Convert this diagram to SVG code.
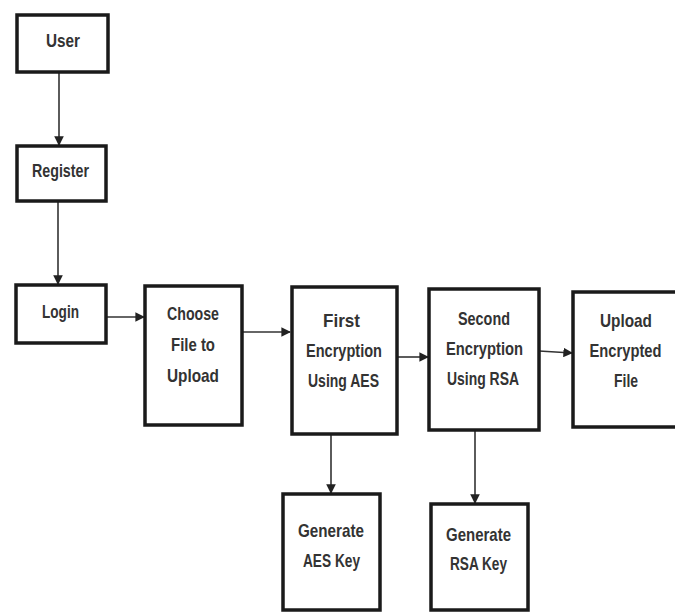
<svg xmlns="http://www.w3.org/2000/svg" width="675" height="612" viewBox="0 0 675 612">
<style>
.box{fill:#fff;stroke:#1a1a1a;stroke-width:3.5}
.lbl{font-family:"Liberation Sans",Arial,sans-serif;font-weight:bold;font-size:19px;fill:#333;text-anchor:middle}
.edge{stroke:#333;stroke-width:1.6;fill:none;marker-end:url(#ah)}
</style>
<defs>
<marker id="ah" viewBox="0 0 10 10" refX="9" refY="5" markerWidth="6" markerHeight="6" markerUnits="strokeWidth" orient="auto">
<path d="M0,0 L10,5 L0,10 z" fill="#222"/>
</marker>
</defs>
<rect width="675" height="612" fill="#fff"/>
<g id="connectors">
<line class="edge" x1="59" y1="72" x2="59" y2="145"/>
<line class="edge" x1="58" y1="201" x2="58" y2="284"/>
<line class="edge" x1="106" y1="317" x2="144" y2="317"/>
<line class="edge" x1="242" y1="332" x2="290" y2="332"/>
<line class="edge" x1="397" y1="357" x2="428" y2="357"/>
<line class="edge" x1="539" y1="351" x2="572" y2="353"/>
<line class="edge" x1="331" y1="434" x2="331" y2="493"/>
<line class="edge" x1="475" y1="430" x2="475" y2="503"/>
</g>
<g id="user"><rect class="box" x="17" y="15" width="91" height="57"/><text class="lbl" x="63" y="47" textLength="34" lengthAdjust="spacingAndGlyphs">User</text></g>
<g id="register"><rect class="box" x="17" y="146" width="89" height="55"/><text class="lbl" x="60.5" y="177" textLength="57" lengthAdjust="spacingAndGlyphs">Register</text></g>
<g id="login"><rect class="box" x="16" y="285" width="90" height="58"/><text class="lbl" x="60.5" y="318" textLength="37" lengthAdjust="spacingAndGlyphs">Login</text></g>
<g id="choose"><rect class="box" x="145" y="286" width="97" height="139"/>
<text class="lbl" x="193" y="320" textLength="52" lengthAdjust="spacingAndGlyphs">Choose</text>
<text class="lbl" x="193" y="351" textLength="44" lengthAdjust="spacingAndGlyphs">File to</text>
<text class="lbl" x="193" y="382" textLength="52" lengthAdjust="spacingAndGlyphs">Upload</text></g>
<g id="first"><rect class="box" x="292" y="287" width="105" height="147"/>
<text class="lbl" x="341.5" y="327" textLength="37" lengthAdjust="spacingAndGlyphs">First</text>
<text class="lbl" x="344" y="357" textLength="76" lengthAdjust="spacingAndGlyphs">Encryption</text>
<text class="lbl" x="343.5" y="387" textLength="71" lengthAdjust="spacingAndGlyphs">Using AES</text></g>
<g id="second"><rect class="box" x="429" y="289" width="110" height="141"/>
<text class="lbl" x="484" y="325" textLength="52" lengthAdjust="spacingAndGlyphs">Second</text>
<text class="lbl" x="484.5" y="355" textLength="77" lengthAdjust="spacingAndGlyphs">Encryption</text>
<text class="lbl" x="483" y="385" textLength="72" lengthAdjust="spacingAndGlyphs">Using RSA</text></g>
<g id="upload"><rect class="box" x="573" y="292" width="105" height="135"/>
<text class="lbl" x="626" y="327" textLength="52" lengthAdjust="spacingAndGlyphs">Upload</text>
<text class="lbl" x="625.5" y="357" textLength="72" lengthAdjust="spacingAndGlyphs">Encrypted</text>
<text class="lbl" x="626" y="387" textLength="24" lengthAdjust="spacingAndGlyphs">File</text></g>
<g id="aeskey"><rect class="box" x="283" y="494" width="97" height="116"/>
<text class="lbl" x="331" y="537" textLength="66" lengthAdjust="spacingAndGlyphs">Generate</text>
<text class="lbl" x="331.5" y="567" textLength="57" lengthAdjust="spacingAndGlyphs">AES Key</text></g>
<g id="rsakey"><rect class="box" x="431" y="504" width="97" height="106"/>
<text class="lbl" x="478.5" y="541" textLength="65" lengthAdjust="spacingAndGlyphs">Generate</text>
<text class="lbl" x="478.5" y="570" textLength="57" lengthAdjust="spacingAndGlyphs">RSA Key</text></g>
</svg>
